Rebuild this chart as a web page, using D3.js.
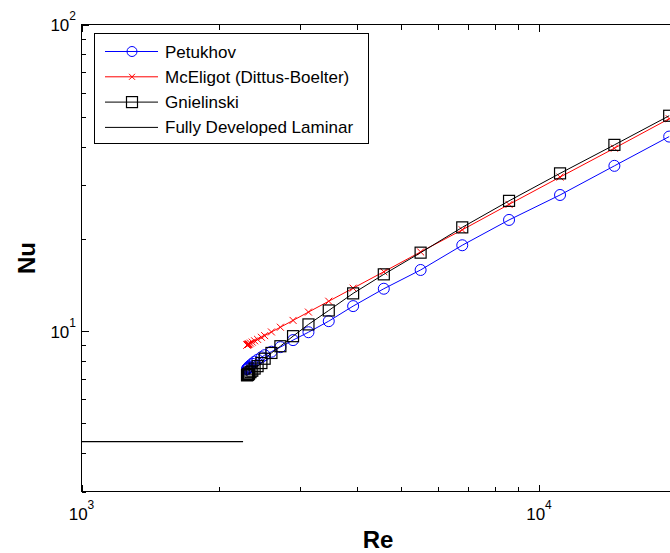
<!DOCTYPE html>
<html>
<head>
<meta charset="utf-8">
<script src="https://cdn.jsdelivr.net/npm/d3@7"></script>
<style>
  html, body { margin: 0; padding: 0; background: #fff; }
  svg { display: block; font-family: "Liberation Sans", Arial, Helvetica, sans-serif; }
</style>
</head>
<body>
<svg id="chart" width="670" height="553"></svg>
<script>
// Reynolds numbers shared by the three turbulent correlations
const reynolds = [2300, 2302, 2306, 2310, 2314, 2319, 2325, 2341, 2362, 2390, 2426, 2473, 2514, 2601, 2721,
                  2900, 3134, 3471, 3924, 4579, 5511, 6796, 8600, 11117, 14615, 19256];
// Nusselt number for each correlation
const petukhov   = [7.51, 7.53, 7.56, 7.58, 7.61, 7.64, 7.67, 7.74, 7.83, 7.95, 8.07, 8.22, 8.35, 8.57, 8.87,
                    9.35, 9.92, 10.78, 12.07, 13.75, 15.83, 19.06, 23.05, 27.8, 34.6, 43.1];
const mceligot   = [9.01, 9.02, 9.03, 9.05, 9.06, 9.07, 9.09, 9.14, 9.21, 9.30, 9.40, 9.55, 9.67, 9.94, 10.30,
                    10.84, 11.54, 12.52, 13.81, 15.62, 18.13, 21.4, 25.9, 31.8, 39.5, 49.3];
const gnielinski = [7.18, 7.19, 7.20, 7.22, 7.23, 7.25, 7.28, 7.35, 7.43, 7.55, 7.69, 7.87, 8.13, 8.49, 8.93,
                    9.63, 10.52, 11.68, 13.28, 15.32, 18.03, 21.8, 26.6, 32.7, 40.5, 50.4];
// Fully developed laminar flow (constant Nu)
const laminarRe = [1000, 2255];
const laminarNu = [4.36, 4.36];

const legendLabels = ["Petukhov", "McEligot (Dittus-Boelter)", "Gnielinski", "Fully Developed Laminar"];

const xMajor = [1000, 10000];
const xMinor = [2000, 3000, 4000, 5000, 6000, 7000, 8000, 9000];
const yMajor = [10, 100];
const yMinor = [3, 4, 5, 6, 7, 8, 9, 20, 30, 40, 50, 60, 70, 80, 90];
const xTickExp = [3, 4];
const yTickExp = [1, 2];

const svg = d3.select("#chart");
const plotLeft = 81.5, plotTop = 24.5, plotBottom = 491.5;
const decadeX = 457.5;
const plotRight = plotLeft + decadeX * Math.log10(20);

const x = d3.scaleLog().domain([1000, 20000]).range([plotLeft, plotRight]);
const y = d3.scaleLog().domain([3, 100]).range([plotBottom, plotTop]);

svg.append("rect").attr("width", 670).attr("height", 553).attr("fill", "#fff");

svg.append("clipPath").attr("id", "plotClip")
  .append("rect").attr("x", plotLeft).attr("y", plotTop)
  .attr("width", plotRight - plotLeft).attr("height", plotBottom - plotTop);

// tick marks, all drawn inward
function ticks(axis, tr, vals, len) {
  const g = svg.append("g").attr("transform", tr)
    .call(axis.tickValues(vals).tickSize(-len).tickSizeOuter(0).tickFormat(""));
  g.select(".domain").remove();
  g.selectAll("line").attr("stroke", "#000").attr("shape-rendering", "crispEdges");
  return g;
}
ticks(d3.axisBottom(x), `translate(0,${plotBottom})`, xMinor, 5);
ticks(d3.axisBottom(x), `translate(0,${plotBottom})`, xMajor, 7);
ticks(d3.axisTop(x), `translate(0,${plotTop})`, xMinor, 5);
ticks(d3.axisTop(x), `translate(0,${plotTop})`, xMajor, 7);
ticks(d3.axisLeft(y), `translate(${plotLeft},0)`, yMinor, 4);
ticks(d3.axisLeft(y), `translate(${plotLeft},0)`, yMajor, 7);
ticks(d3.axisRight(y), `translate(${plotRight},0)`, yMinor, 4);
ticks(d3.axisRight(y), `translate(${plotRight},0)`, yMajor, 7);

// axes box
svg.append("rect")
  .attr("x", plotLeft).attr("y", plotTop)
  .attr("width", plotRight - plotLeft).attr("height", plotBottom - plotTop)
  .attr("fill", "none").attr("stroke", "#000").attr("stroke-width", 1)
  .attr("shape-rendering", "crispEdges");

// tick labels as powers of ten
xMajor.forEach((v, i) => {
  const t = svg.append("text")
    .attr("x", x(v)).attr("y", 520)
    .attr("text-anchor", "middle").attr("font-size", 17).attr("fill", "#000");
  t.append("tspan").text("10");
  t.append("tspan").attr("font-size", 12).attr("dy", -11).text(xTickExp[i]);
});
yMajor.forEach((v, i) => {
  const t = svg.append("text")
    .attr("x", 76).attr("y", y(v) + 6.5)
    .attr("text-anchor", "end").attr("font-size", 17).attr("fill", "#000");
  t.append("tspan").text("10");
  t.append("tspan").attr("font-size", 12).attr("dy", -11).text(yTickExp[i]);
});

// axis titles
svg.append("text")
  .attr("x", 378).attr("y", 548)
  .attr("text-anchor", "middle").attr("font-size", 24).attr("font-weight", "bold")
  .text("Re");
svg.append("text")
  .attr("transform", `translate(35,${(plotTop + plotBottom) / 2}) rotate(-90)`)
  .attr("text-anchor", "middle").attr("font-size", 24).attr("font-weight", "bold")
  .text("Nu");

const plot = svg.append("g").attr("clip-path", "url(#plotClip)");
const line = d3.line().x(d => x(d[0])).y(d => y(d[1]));
const zip = (a, b) => a.map((v, i) => [v, b[i]]);

function drawCircles(g, pts, color) {
  g.selectAll(null).data(pts).enter().append("circle")
    .attr("cx", d => x(d[0])).attr("cy", d => y(d[1])).attr("r", 5.5)
    .attr("fill", "none").attr("stroke", color).attr("stroke-width", 1);
}
function drawCrosses(g, pts, color) {
  const s = 3.5;
  g.selectAll(null).data(pts).enter().append("path")
    .attr("d", d => {
      const cx = x(d[0]), cy = y(d[1]);
      return `M${cx - s},${cy - s}L${cx + s},${cy + s}M${cx - s},${cy + s}L${cx + s},${cy - s}`;
    })
    .attr("fill", "none").attr("stroke", color).attr("stroke-width", 1);
}
function drawSquares(g, pts, color) {
  const s = 5.5;
  g.selectAll(null).data(pts).enter().append("rect")
    .attr("x", d => x(d[0]) - s).attr("y", d => y(d[1]) - s)
    .attr("width", 2 * s).attr("height", 2 * s)
    .attr("fill", "none").attr("stroke", color).attr("stroke-width", 1.2);
}

const pPts = zip(reynolds, petukhov);
const mPts = zip(reynolds, mceligot);
const gPts = zip(reynolds, gnielinski);
const lPts = zip(laminarRe, laminarNu);

plot.append("path").datum(pPts).attr("d", line).attr("fill", "none").attr("stroke", "#0000ff").attr("stroke-width", 1);
drawCircles(plot, pPts, "#0000ff");
plot.append("path").datum(mPts).attr("d", line).attr("fill", "none").attr("stroke", "#ff0000").attr("stroke-width", 1);
drawCrosses(plot, mPts, "#ff0000");
plot.append("path").datum(gPts).attr("d", line).attr("fill", "none").attr("stroke", "#000").attr("stroke-width", 1);
drawSquares(plot, gPts, "#000");
plot.append("path").datum(lPts).attr("d", line).attr("fill", "none").attr("stroke", "#000").attr("stroke-width", 1.2);

// legend
const lg = svg.append("g");
lg.append("rect").attr("x", 94.5).attr("y", 33.5).attr("width", 274).attr("height", 110)
  .attr("fill", "#fff").attr("stroke", "#000").attr("stroke-width", 1)
  .attr("shape-rendering", "crispEdges");
const rowY = i => 51.5 + i * 25.3;
const colors = ["#0000ff", "#ff0000", "#000", "#000"];
legendLabels.forEach((lab, i) => {
  const cy = rowY(i);
  lg.append("line").attr("x1", 105).attr("x2", 158).attr("y1", cy).attr("y2", cy)
    .attr("stroke", colors[i]).attr("stroke-width", 1);
  lg.append("text").attr("x", 165).attr("y", cy + 6)
    .attr("font-size", 17).attr("fill", "#000").text(lab);
});
{
  const mx = 132;
  lg.append("circle").attr("cx", mx).attr("cy", rowY(0)).attr("r", 5)
    .attr("fill", "none").attr("stroke", "#0000ff");
  const s = 3, cy = rowY(1);
  lg.append("path").attr("d", `M${mx - s},${cy - s}L${mx + s},${cy + s}M${mx - s},${cy + s}L${mx + s},${cy - s}`)
    .attr("stroke", "#ff0000").attr("fill", "none");
  lg.append("rect").attr("x", mx - 5.5).attr("y", rowY(2) - 5.5).attr("width", 11).attr("height", 11)
    .attr("fill", "none").attr("stroke", "#000").attr("stroke-width", 1.2);
}
</script>
</body>
</html>
